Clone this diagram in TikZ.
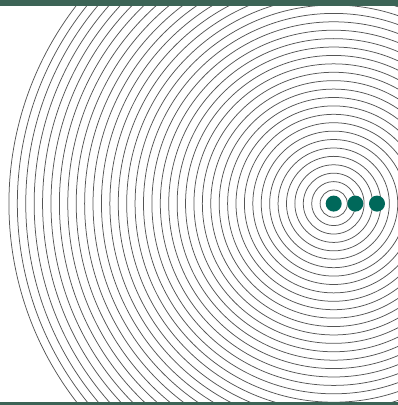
\documentclass[tikz,border=0pt]{standalone}
\definecolor{barcol}{RGB}{60,100,86}
\definecolor{dotcol}{RGB}{0,104,90}
\definecolor{ringcol}{RGB}{85,85,85}
\begin{document}
\begin{tikzpicture}[x=1pt,y=-1pt,
  ring/.style={draw=ringcol,line width=0.75pt},
  bar/.style={fill=barcol,draw=none},
  dot/.style={circle,fill=dotcol,draw=none,minimum size=16pt,inner sep=0pt}]
\useasboundingbox (0,0) rectangle (398,405);
\begin{scope}
  \clip (0,0) rectangle (398,405);
  \foreach \k in {0,...,37}{
    \draw[ring] (333.7,203.6) circle ({13.6+8.41*\k});
  }
\end{scope}
\fill[bar] (0,0) rectangle (398,5.7);
\fill[bar] (0,401.6) rectangle (398,405);
\node[dot] (d1) at (333.7,203.6) {};
\node[dot] (d2) at (355.3,203.6) {};
\node[dot] (d3) at (377.0,203.6) {};
\end{tikzpicture}
\end{document}
